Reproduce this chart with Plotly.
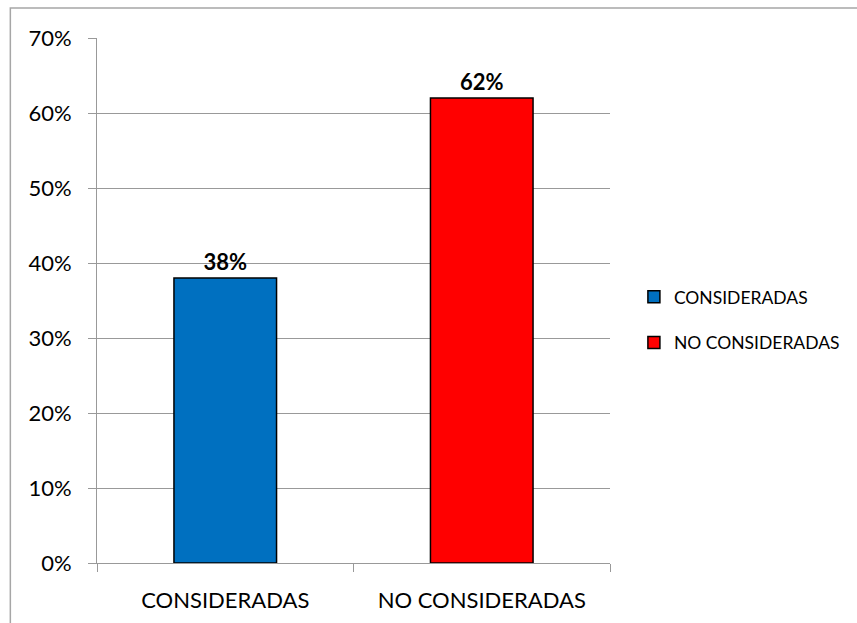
import plotly.graph_objects as go

categories = ["CONSIDERADAS", "NO CONSIDERADAS"]
values = [0.38, 0.62]
colors = ["#0070C0", "#FF0000"]
y_ticks = [0, 0.1, 0.2, 0.3, 0.4, 0.5, 0.6, 0.7]
y_tick_labels = ["0%", "10%", "20%", "30%", "40%", "50%", "60%", "70%"]

FONT = "Lato, Carlito, Calibri, sans-serif"

fig = go.Figure()
for cat, val, col in zip(categories, values, colors):
    fig.add_trace(go.Bar(
        x=[cat], y=[val], name=cat, legendgroup=cat,
        marker=dict(color=col, line=dict(color="#000000", width=1.5)),
        width=0.4,
        text=[f"{round(val * 100)}%"],
        textposition="outside",
        textfont=dict(family=FONT, size=22, color="#000000"),
        texttemplate="<b>%{text}</b>",
        cliponaxis=False,
    ))

fig.update_layout(
    width=857, height=623,
    margin=dict(l=97, r=245, t=38, b=60),
    paper_bgcolor="white", plot_bgcolor="white",
    font=dict(family=FONT, size=22, color="#000000"),
    barmode="overlay",
    showlegend=True,
    legend=dict(
        x=1.0466, xanchor="left", y=0.463, yanchor="middle",
        font=dict(family=FONT, size=17.5, color="#000000"),
        tracegroupgap=20, itemwidth=30,
        bgcolor="rgba(0,0,0,0)",
    ),
)

fig.update_xaxes(
    type="category",
    automargin=False,
    showline=True, linecolor="#999999", linewidth=1,
    ticks="outside", tickson="boundaries", ticklen=8, tickcolor="#999999",
    showgrid=False,
    ticklabelstandoff=18,
    tickfont=dict(family=FONT, size=22),
)
fig.update_yaxes(
    range=[0, 0.7],
    automargin=False,
    tickvals=y_ticks, ticktext=y_tick_labels,
    showline=True, linecolor="#999999", linewidth=1,
    ticks="outside", ticklen=8, tickcolor="#999999",
    showgrid=True, gridcolor="#999999", gridwidth=1,
    zeroline=False,
    ticklabelstandoff=12,
    tickfont=dict(family=FONT, size=22),
)

# outer chart frame (left and top edges visible)
fig.add_shape(
    type="rect", xref="paper", yref="paper",
    x0=(10 - 97) / 515, x1=2.0,
    y0=-0.5, y1=(563 - 8) / 525,
    line=dict(color="#A6A6A6", width=1.5),
    layer="below",
)

fig.write_html("out.html")
